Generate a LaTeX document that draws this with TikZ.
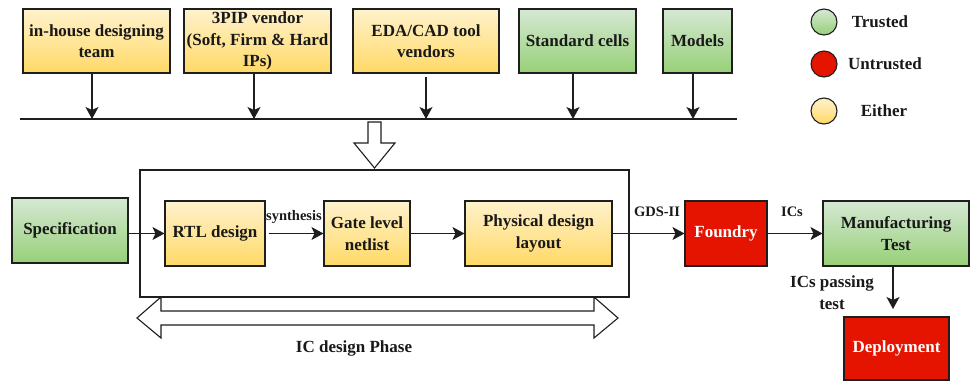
\documentclass[tikz,border=0pt]{standalone}
\usepackage{fontspec}
\setmainfont{Liberation Serif}
\usetikzlibrary{arrows.meta,calc}
\definecolor{yt}{HTML}{FFF2CC}
\definecolor{yb}{HTML}{FFD966}
\definecolor{gt}{HTML}{D5E8D4}
\definecolor{gb}{HTML}{97D077}
\definecolor{ured}{HTML}{E51400}
\definecolor{edge}{HTML}{1E1E1E}
\tikzset{
 box/.style={draw=edge, line width=1.1pt, inner sep=0pt, align=center,
   font=\fontsize{17}{21.5}\selectfont\bfseries, text=black!90},
 ybox/.style={box, top color=yt, bottom color=yb},
 gbox/.style={box, top color=gt, bottom color=gb},
 rbox/.style={box, fill=ured, text=white},
 arr/.style={-{Stealth[length=12pt,width=13pt,inset=3pt]}, line width=1.1pt, draw=edge},
 lbl/.style={font=\fontsize{14.5}{17}\selectfont\bfseries, inner sep=0pt, text=black!90},
 big/.style={font=\fontsize{17}{21.5}\selectfont\bfseries, inner sep=0pt, align=center, text=black!90},
 hollow/.style={draw=edge, line width=1.1pt, fill=white, line join=miter},
 dot/.style={circle, draw=edge, line width=1.1pt, minimum size=26pt, inner sep=0pt},
}
\begin{document}
\begin{tikzpicture}[x=1pt,y=-1pt]
\useasboundingbox (0,0) rectangle (971,381);
% top sources
\node[ybox, minimum width=147pt, minimum height=64pt] (inh) at (96.5,41) {in-house designing\\team};
\node[ybox, minimum width=147pt, minimum height=64pt] (ip) at (257.5,41) {3PIP vendor\\(Soft, Firm \& Hard\\IPs)};
\node[ybox, minimum width=146pt, minimum height=64pt] (eda) at (426,41) {EDA/CAD tool\\vendors};
\node[gbox, minimum width=117pt, minimum height=64pt] (std) at (577.5,41) {Standard cells};
\node[gbox, minimum width=69pt, minimum height=64pt] (mod) at (697.5,41) {Models};
% bus
\coordinate (busL) at (20,119);
\coordinate (busR) at (737,119);
\draw[line width=1.1pt, draw=edge] (busL) -- (busR);
\draw[arr] (inh.south -| 92,0) -- (92,119);
\draw[arr] (ip.south -| 254,0) -- (254,119);
\draw[arr] ([yshift=-3pt]eda.south) -- (eda.south |- busL);
\draw[arr] (std.south -| 573,0) -- (573,119);
\draw[arr] (mod.south -| 693,0) -- (693,119);
% legend
\node[dot, top color=gt, bottom color=gb] (lgT) at (824,22) {};
\node[dot, fill=ured] (lgU) at (824,64) {};
\node[dot, top color=yt, bottom color=yb] (lgE) at (824,111) {};
\node[big] (tT) at (880,22) {Trusted};
\node[big] (tU) at (885,64) {Untrusted};
\node[big] (tE) at (884,111) {Either};
% IC design phase frame
\node[draw=edge, line width=1.1pt, minimum width=489pt, minimum height=127pt, inner sep=0pt] (frame) at (384.5,233.5) {};
% hollow down arrow from bus to frame
\draw[hollow] (368,122) -- (381,122) -- (381,143) -- (395,143) -- (374.5,168) -- (354,143) -- (368,143) -- cycle;
% double hollow arrow
\draw[hollow] (137,318) -- (161,297) -- (161,311) -- (594,311) -- (594,297) -- (618,318) -- (594,338) -- (594,325) -- (161,325) -- (161,338) -- cycle;
\node[big] (phase) at (354,348) {IC design Phase};
% flow
\node[gbox, minimum width=116pt, minimum height=65pt] (spec) at (70,230.5) {Specification};
\node[ybox, minimum width=100pt, minimum height=65pt] (rtl) at (215,233.5) {RTL design};
\node[ybox, minimum width=86pt, minimum height=65pt] (gate) at (367,233.5) {Gate level\\netlist};
\node[ybox, minimum width=147pt, minimum height=65pt] (phys) at (538.5,233.5) {Physical design\\layout};
\node[rbox, minimum width=82pt, minimum height=65pt] (found) at (726,233.5) {Foundry};
\node[gbox, minimum width=146pt, minimum height=65pt] (mt) at (896,233.5) {Manufacturing\\Test};
\node[rbox, minimum width=105pt, minimum height=63pt] (dep) at (896.5,348.5) {Deployment};
\draw[arr] (spec.east |- rtl.west) -- (rtl.west);
\draw[arr] ([xshift=3pt]rtl.east) -- (gate.west);
\draw[arr] (gate.east) -- (phys.west);
\draw[arr] (phys.east) -- (found.west);
\draw[arr] (found.east) -- (mt.west);
\draw[arr] (mt.south -| 893,0) -- (893,309);
\node[lbl] (lsyn) at (294,217) {synthesis};
\node[lbl] (lgds) at (657,212) {GDS-II};
\node[lbl] (lics) at (792,212) {ICs};
\node[big] (lpass) at (832,292.5) {ICs passing\\test};
\end{tikzpicture}
\end{document}
